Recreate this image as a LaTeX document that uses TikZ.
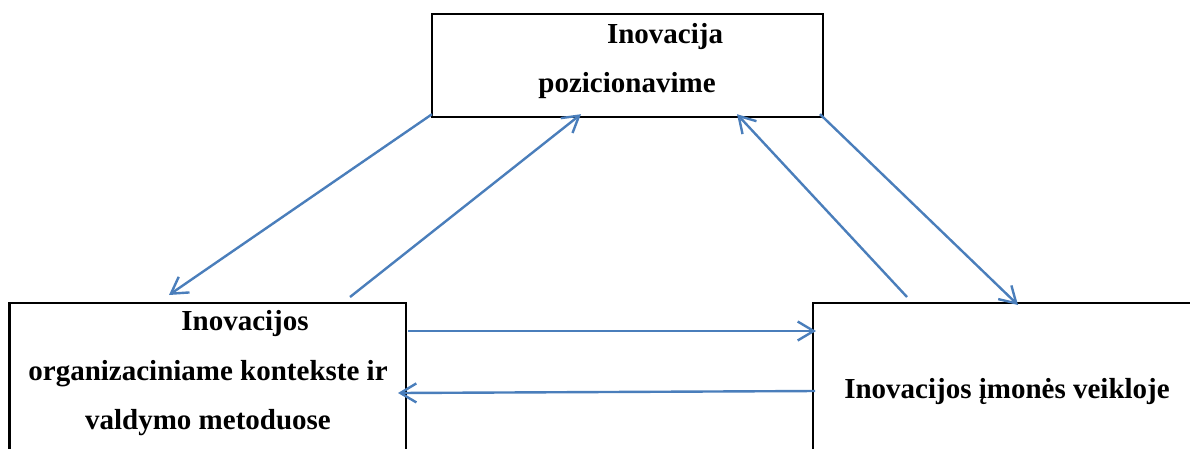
\documentclass[tikz,border=0pt]{standalone}
\usepackage{fontspec}
\setmainfont{Liberation Serif}
\usetikzlibrary{arrows.meta,calc}
\definecolor{linkblue}{RGB}{74,126,187}
\tikzset{
  box/.style={draw=black, line width=2.4pt, rectangle, inner sep=0pt, outer sep=0pt},
  label/.style={anchor=base, inner sep=0pt, font=\bfseries\fontsize{29}{34}\selectfont},
  link/.style={draw=linkblue, line width=2.4pt,
    -{Straight Barb[length=16pt, width=19pt, line width=2.4pt]}}
}
\begin{document}
\begin{tikzpicture}[x=1pt, y=-1pt]
  \useasboundingbox (0,0) rectangle (1190,448);
  \clip (0,0) rectangle (1190,448);

  % the three boxes (the two lower ones run past the frame)
  \node[box, minimum width=391pt, minimum height=102.7pt] (top) at (627.5,65.35) {};
  \node[box, minimum width=396.5pt, minimum height=167pt] (left) at (207.75,386.5) {};
  \node[box, minimum width=387pt, minimum height=167pt] (right) at (1006.5,386.5) {};

  % box texts
  \node[label] (t1) at (665,43) {Inovacija};
  \node[label] (t2) at (627,92) {pozicionavime};
  \node[label] (l1) at (245,330) {Inovacijos};
  \node[label] (l2) at (208,380) {organizaciniame kontekste ir};
  \node[label] (l3) at (208,429.5) {valdymo metoduose};
  \node[label] (r1) at (1007,398) {Inovacijos įmonės veikloje};

  % connectors between the boxes
  \draw[link] ($(top.south west)+(0,-2.5)$) -- ($(left.north west)+(159.5,-8)$);
  \draw[link] ($(left.north west)+(340.5,-6)$) -- ($(top.south west)+(149,-2.5)$);
  \draw[link] ($(right.north west)+(94,-6)$) -- ($(top.south west)+(305,-2.5)$);
  \draw[link] ($(top.south east)+(-3,-2.5)$) -- ($(right.north west)+(205,2)$);
  \draw[link] ($(left.north east)+(2,28)$) -- ($(right.north west)+(3,28)$);
  \draw[link] ($(right.north west)+(2,88)$) -- ($(left.north east)+(-8,90)$);
\end{tikzpicture}
\end{document}
